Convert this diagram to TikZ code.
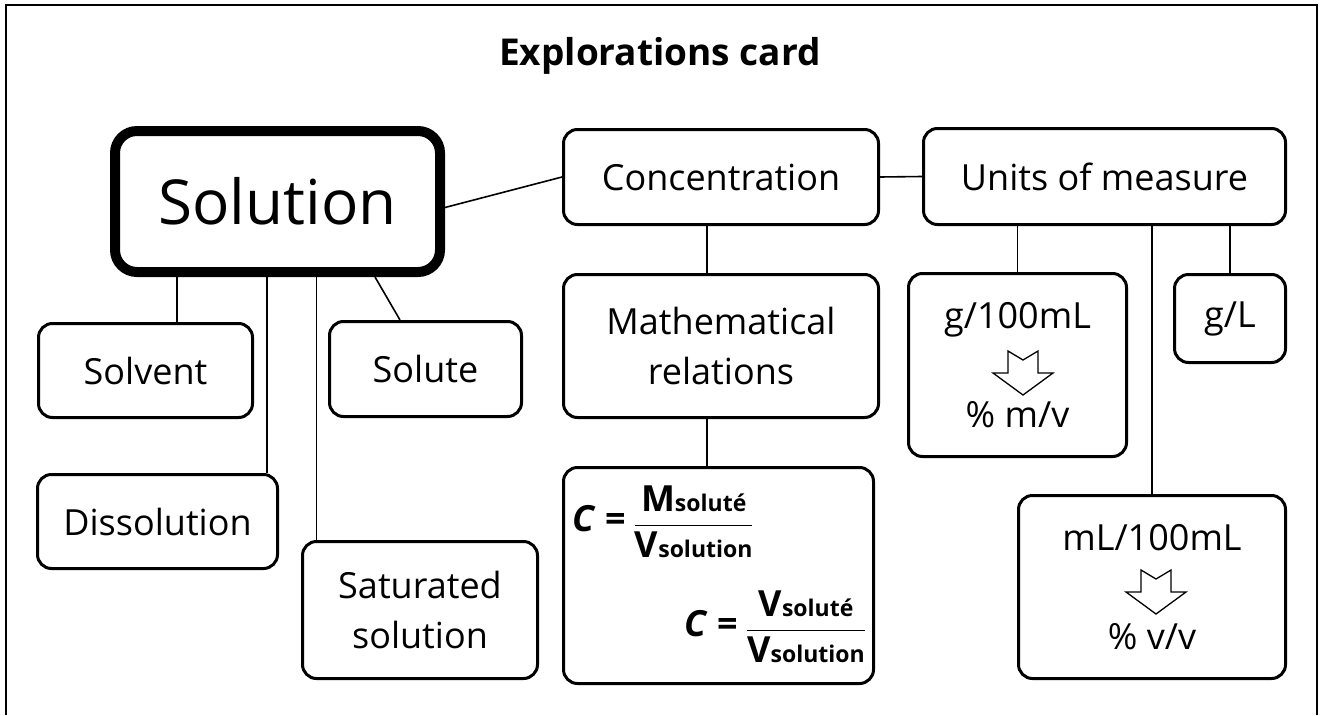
\documentclass[tikz,border=0pt]{standalone}
\usepackage{fontspec}
\setmainfont{Open Sans}
\usepackage{tikz}
\usetikzlibrary{positioning}
\newcommand{\labelfont}{\fontsize{36}{50}\selectfont}
\newcommand{\bigfont}{\fontsize{62}{70}\selectfont}
\newcommand{\titlefont}{\fontsize{37}{42}\selectfont\bfseries}
\newcommand{\formfont}{\fontsize{36}{40}\selectfont\bfseries}
\newcommand{\lowtxt}[1]{{\fontsize{23}{26}\selectfont #1}}
\newcommand{\fracbox}[2]{\begin{tabular}{@{}c@{}}#1\\\hline #2\end{tabular}}
\setlength{\arrayrulewidth}{1.5pt}
\renewcommand{\arraystretch}{1.1}
\newcommand{\notcharrow}[1]{\draw[hollowarrow] (#1) ++(-15,0) -- ++(15,9) -- ++(15,-9) -- ++(0,22) -- ++(15,0) -- ++(-30,22) -- ++(-30,-22) -- ++(15,0) -- cycle;}
\tikzset{
  mapbox/.style={rectangle,draw,rounded corners=14pt,line width=3pt,inner sep=0pt,align=center,font=\labelfont},
  mainbox/.style={mapbox,rounded corners=22pt,line width=10pt,font=\bigfont},
  formnode/.style={inner sep=0pt,font=\formfont},
  link/.style={line width=1.6pt},
  hollowarrow/.style={line width=1.3pt,line join=miter},
  frame/.style={line width=2.5pt}
}
\begin{document}
\begin{tikzpicture}[x=1pt,y=-1pt]
    \useasboundingbox (0,0) rectangle (1320,715);
    \draw[frame] (6,715) -- (6,5) -- (1317,5) -- (1317,715);
    \node[font=\titlefont] (title) at (660,56) {Explorations card};
    \node[mainbox,minimum width=325pt,minimum height=141pt] (sol) at (277.5,201.5) {Solution};
    \node[mapbox,minimum width=315pt,minimum height=95pt] (conc) at (721,177) {Concentration};
    \node[mapbox,minimum width=362pt,minimum height=96pt] (units) at (1104.5,176.5) {Units of measure};
    \node[mapbox,minimum width=315pt,minimum height=143pt] (math) at (721,346) {Mathematical\\relations};
    \node[mapbox,minimum width=310pt,minimum height=216pt] (formula) at (718.5,575.5) {};
    \node[mapbox,minimum width=218pt,minimum height=183pt] (gml) at (1017.5,365) {g/100mL\\[49pt]\% m/v};
    \node[mapbox,minimum width=111pt,minimum height=88pt] (gl) at (1230,318.5) {g/L};
    \node[mapbox,minimum width=267pt,minimum height=183pt] (mlml) at (1152,587) {mL/100mL\\[49pt]\% v/v};
    \node[mapbox,minimum width=214pt,minimum height=94pt] (solvent) at (145.5,370.5) {Solvent};
    \node[mapbox,minimum width=192pt,minimum height=95pt] (solute) at (425.5,369) {Solute};
    \node[mapbox,minimum width=240pt,minimum height=94pt] (dissol) at (157.5,521.5) {Dissolution};
    \node[mapbox,minimum width=235pt,minimum height=137pt] (satur) at (420,610) {Saturated\\solution};
    \node[formnode,anchor=west] (form1) at ([xshift=10pt,yshift=50pt]formula.west) {\textit{C} = \fracbox{M\lowtxt{soluté}}{V\lowtxt{solution}}};
    \node[formnode,anchor=east] (form2) at ([xshift=-10pt,yshift=-55pt]formula.east) {\textit{C} = \fracbox{V\lowtxt{soluté}}{V\lowtxt{solution}}};
    \notcharrow{[xshift=5.5pt,yshift=14pt]gml.center}
    \notcharrow{[xshift=4pt,yshift=17pt]mlml.center}
    \draw[link] ([yshift=-6pt]sol.east) -- (conc.west);
    \draw[link] (conc.east) -- (units.west);
    \draw[link] ([xshift=-14pt]conc.south) -- ([xshift=-14pt]math.north);
    \draw[link] ([xshift=-14pt]math.south) -- ([xshift=-11.5pt]formula.north);
    \draw[link] (gml.north) -- (gml.north |- units.south);
    \draw[link] (gl.north) -- (gl.north |- units.south);
    \draw[link] (mlml.north) -- (mlml.north |- units.south);
    \draw[link] ([xshift=-100.5pt]sol.south) -- ([xshift=31.5pt]solvent.north);
    \draw[link] ([xshift=-10.5pt]sol.south) -- ([xshift=109.5pt]dissol.north);
    \draw[link] ([xshift=39pt]sol.south) -- ([xshift=-103.5pt]satur.north);
    \draw[link] ([xshift=97.5pt]sol.south) -- ([xshift=-25.5pt]solute.north);
\end{tikzpicture}
\end{document}
